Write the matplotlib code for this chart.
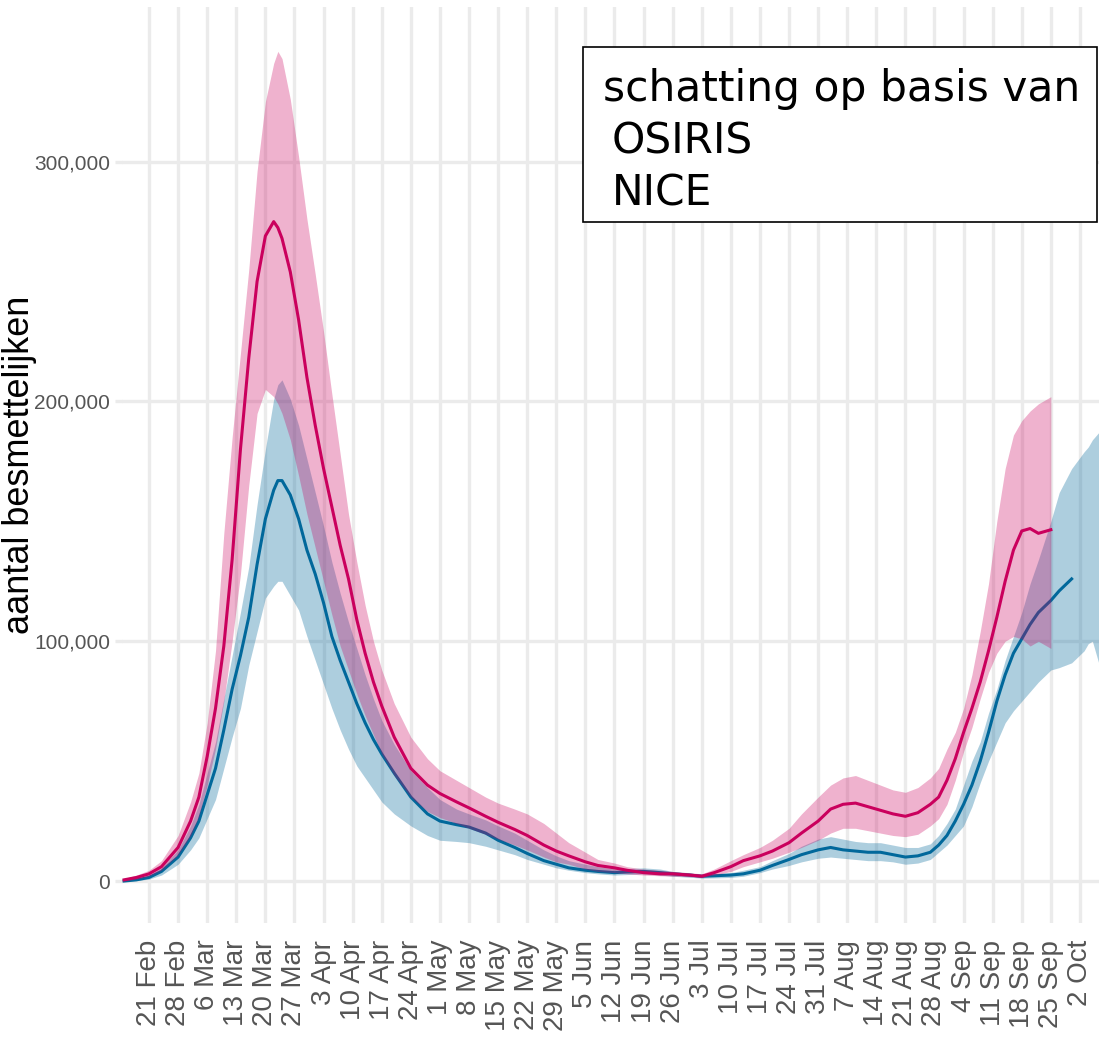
import numpy as np
import pandas as pd
import matplotlib
matplotlib.use("Agg")
import matplotlib.pyplot as plt
import matplotlib.dates as mdates
from matplotlib.patches import Rectangle
from matplotlib.ticker import FuncFormatter

# datums (2020) voor OSIRIS en het gedeelde deel van NICE
dates = ["02-15", "02-18", "02-21", "02-24", "02-28", "03-02", "03-04", "03-06", "03-08", "03-10",
         "03-12", "03-14", "03-16", "03-18", "03-20", "03-22", "03-23", "03-24", "03-26", "03-28",
         "03-30", "04-01", "04-03", "04-05", "04-07", "04-09", "04-11", "04-13", "04-15", "04-17",
         "04-20", "04-24", "04-28", "05-01", "05-05", "05-08", "05-12", "05-15", "05-19", "05-22",
         "05-26", "05-29", "06-01", "06-05", "06-08", "06-12", "06-15", "06-19", "06-23", "06-26",
         "06-30", "07-03", "07-06", "07-10", "07-13", "07-17", "07-20", "07-24", "07-27", "07-31",
         "08-03", "08-06", "08-09", "08-12", "08-15", "08-18", "08-21", "08-24", "08-27", "08-29",
         "08-31", "09-02", "09-04", "09-06", "09-08", "09-10", "09-12", "09-14", "09-16", "09-18",
         "09-20", "09-22", "09-25"]
nice_line_extra = ["09-27", "09-30"]
nice_band_extra = ["09-27", "09-30", "10-03", "10-04", "10-05", "10-06", "10-07"]

# schatting op basis van OSIRIS (x1000)
osiris = [0.5, 1.5, 3, 6, 14, 25, 35, 52, 72, 98,
          134, 180, 218, 250, 269, 275, 272.5, 268, 254, 234,
          210, 190, 172, 156, 140, 126, 109, 95, 83, 73,
          60, 47, 40, 36.5, 33, 30.5, 27, 24.5, 21.5, 19,
          15, 12.5, 10.5, 8, 6.5, 5.5, 4.5, 3.5, 3, 3,
          2.5, 2, 3.5, 6, 8.5, 10.5, 12.5, 16, 20, 25,
          30, 32, 32.5, 31, 29.5, 28, 27, 28.5, 32, 35,
          42, 51, 62, 72, 83, 96, 110, 125, 138, 146,
          147, 145, 146.5]
osiris_hi = [1, 2.5, 4.5, 8.5, 19, 33, 45, 66, 96, 145,
             185, 220, 255, 296, 325, 341, 346, 343, 326, 302,
             276, 253, 229, 203, 178, 153, 133, 115, 100, 88,
             74, 60, 51, 46, 42, 39, 35, 32.5, 30, 28,
             24, 20, 16, 12, 9, 7.5, 6, 5, 4.5, 4,
             3.5, 3, 5, 8.5, 11, 14, 17, 22, 28, 35,
             40, 43, 44, 42, 40, 38, 37, 39, 43, 47,
             55, 62, 72, 86, 104, 124, 150, 172, 186, 192,
             196, 199, 202]
osiris_lo = [0, 0.8, 2, 4.5, 11, 19, 27, 40, 55, 75,
             100, 128, 165, 195, 205, 202, 199, 195, 184, 169,
             153, 139, 125, 111, 98, 88, 78, 69, 61, 53,
             44, 35, 29, 26.5, 24, 22, 19.5, 17.5, 15, 13,
             10, 8, 7, 5, 4, 3.5, 3, 2.5, 2.2, 2,
             1.8, 1.5, 2.5, 4, 6, 8, 9.5, 12, 14, 17,
             20, 22, 22, 21, 20, 19, 18.5, 19.5, 23, 26,
             32, 42, 54, 64, 76, 87, 95, 100, 102, 101,
             98, 100, 97]

# schatting op basis van NICE (x1000)
nice = [0, 0.5, 1.5, 4, 10, 18, 25, 36, 47, 63,
        80, 94, 110, 132, 151, 163, 167, 167, 161, 151,
        138, 128, 116, 102, 92, 83, 74, 66, 59, 53,
        45, 35, 28, 25, 23.5, 22.5, 20, 17, 14, 11.5,
        8.5, 7, 5.5, 4.5, 4, 3.5, 3.8, 4, 3.5, 3,
        2.5, 2, 2.2, 2.5, 3, 4.5, 6.5, 9, 11, 13,
        14, 13, 12.5, 12, 12, 11, 10, 10.5, 12, 15,
        19, 25, 32, 40, 50, 62, 75, 86, 95, 101,
        107, 112, 117, 121, 126]
nice_hi = [0.5, 1, 2.5, 5.5, 13, 23, 32, 45, 58, 76,
           94, 112, 131, 157, 180, 201, 207, 209, 201, 190,
           176, 162, 148, 133, 120, 108, 97, 86, 76, 67,
           57, 46, 39, 34, 30, 28, 25.5, 23, 20, 17,
           13, 10.5, 8.5, 7, 6, 5, 5.2, 5.5, 5, 4,
           3.4, 2.8, 3, 3.5, 4.5, 6, 8.5, 11.5, 14.5, 17.5,
           18.5, 17.5, 16.5, 16, 16, 15, 14, 14, 15.5, 19,
           24, 30, 40, 50, 58, 70, 80, 92, 102, 112,
           124, 134, 150, 162, 172, 179, 181, 184, 186, 188]
nice_lo = [0, 0.2, 0.8, 2.5, 7, 13, 18, 26, 34, 47,
           60, 72, 90, 104, 118, 123, 125, 125, 119, 113,
           102, 92, 82, 72, 63, 55, 48, 43, 38, 33,
           28, 23, 19, 17, 16.5, 16, 14.5, 13, 11, 9,
           7, 5.5, 4.5, 3.5, 3, 2.5, 2.7, 3, 2.5, 2,
           1.6, 1.2, 1.3, 1.5, 2, 3.5, 5, 6.5, 8, 9.5,
           10, 9.5, 9, 8.5, 8.5, 8, 7, 7.5, 9, 12,
           15, 19, 23, 31, 41, 50, 58, 66, 71, 75,
           79, 83, 88, 89, 91, 96, 99, 100, 94, 88]

week_ticks = pd.date_range("2020-02-21", "2020-10-02", freq="7D")

pink = "#CA005D"
blue = "#01689B"
grey_grid = "#EBEBEB"
grey_txt = "#555555"


def to_dates(lst):
    return pd.to_datetime(["2020-" + d for d in lst])


x_os = to_dates(dates)
x_nl = to_dates(dates + nice_line_extra)
x_nb = to_dates(dates + nice_band_extra)

W, H = 1099, 1048
fig = plt.figure(figsize=(W / 100, H / 100), dpi=100)
ax = fig.add_axes([122 / W, 125 / H, 977 / W, 916 / H])

k = 1000
ax.fill_between(x_nb, np.array(nice_lo) * k, np.array(nice_hi) * k,
                color=blue, alpha=0.32, linewidth=0, zorder=2)
ax.plot(x_nl, np.array(nice) * k, color=blue, lw=2.2, zorder=3)
ax.fill_between(x_os, np.array(osiris_lo) * k, np.array(osiris_hi) * k,
                color=pink, alpha=0.3, linewidth=0, zorder=4)
ax.plot(x_os, np.array(osiris) * k, color=pink, lw=2.2, zorder=5)

ax.set_xlim(pd.Timestamp("2020-02-14 12:00"), pd.Timestamp("2020-10-06 14:00"))
ax.set_ylim(-17500, 364500)

ax.set_xticks(week_ticks)
ax.xaxis.set_major_formatter(mdates.DateFormatter("%-d %b"))
ax.set_yticks([0, 100000, 200000, 300000])
ax.yaxis.set_major_formatter(FuncFormatter(lambda v, p: f"{int(v):,}"))

ax.grid(True, color=grey_grid, lw=2.4, zorder=0)
ax.set_axisbelow(True)
for s in ax.spines.values():
    s.set_visible(False)

ax.tick_params(axis="x", length=0, pad=12, labelrotation=90, labelcolor=grey_txt)
ax.tick_params(axis="y", length=5, width=2.4, color=grey_grid, pad=3.5, labelcolor=grey_txt)
for lab in ax.get_xticklabels():
    lab.set_family(["Liberation Sans", "DejaVu Sans"])
    lab.set_fontsize(20)
for lab in ax.get_yticklabels():
    lab.set_family(["Liberation Sans", "DejaVu Sans"])
    lab.set_fontsize(15)

fig.text(20 / W, 1 - 465 / H, "aantal besmettelijken", rotation=90, ha="center", va="center",
         fontsize=26, family=["Liberation Sans", "DejaVu Sans"], color="black")

# legenda-kader
fig.patches.append(Rectangle((583 / W, 1 - 222 / H), (1097 - 583) / W, (222 - 47) / H,
                             transform=fig.transFigure, facecolor="white",
                             edgecolor="black", lw=1.2, zorder=10))
fig.text(603 / W, 1 - 101 / H, "schatting op basis van", fontsize=30.5, family="DejaVu Sans",
         va="baseline", ha="left", zorder=11)
fig.text(612 / W, 1 - 154 / H, "OSIRIS", fontsize=30.5, family="DejaVu Sans",
         va="baseline", ha="left", zorder=11)
fig.text(612 / W, 1 - 205 / H, "NICE", fontsize=30.5, family="DejaVu Sans",
         va="baseline", ha="left", zorder=11)

fig.savefig("out.png", dpi=100)
